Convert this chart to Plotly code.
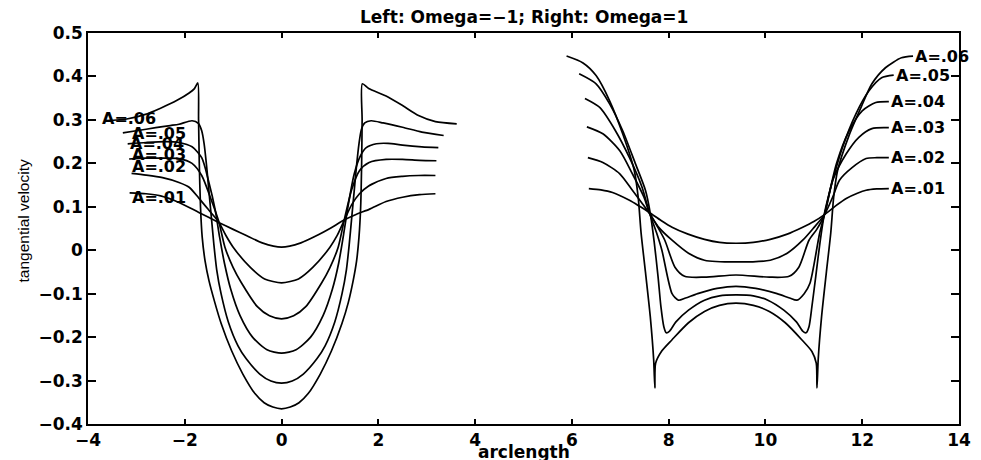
import plotly.graph_objects as go

# ---- Omega = -1 family (left) ----
L1_X = [-3.14, -2.8, -2.5, -2.12, -1.71, -1.3, -1.0, -0.75, -0.4, 0, 0.4, 0.75, 1.0, 1.3, 1.55, 1.81, 2.16, 2.5, 2.85, 3.18]
L1_Y = [0.132, 0.130, 0.125, 0.110, 0.087, 0.064, 0.048, 0.035, 0.017, 0.007, 0.017, 0.035, 0.050, 0.070, 0.083, 0.094, 0.112, 0.122, 0.128, 0.130]

L2_X = [-3.10, -2.80, -2.46, -2.12, -1.91, -1.71, -1.50, -1.30, -1.15, -1.00, -0.65, -0.35, 0, 0.35, 0.65, 1.00, 1.15, 1.30, 1.45, 1.61, 1.80, 2.16, 2.50, 2.83, 3.18]
L2_Y = [0.177, 0.173, 0.167, 0.156, 0.145, 0.120, 0.092, 0.065, 0.034, 0.007, -0.039, -0.066, -0.075, -0.066, -0.039, 0.007, 0.034, 0.070, 0.105, 0.130, 0.148, 0.165, 0.170, 0.172, 0.172]

L3_X = [-3.15, -2.8, -2.5, -2.12, -1.85, -1.65, -1.45, -1.30, -1.17, -1.00, -0.83, -0.50, -0.25, 0, 0.25, 0.50, 0.83, 1.00, 1.17, 1.30, 1.45, 1.61, 1.81, 2.16, 2.50, 2.85, 3.20]
L3_Y = [0.210, 0.212, 0.212, 0.211, 0.200, 0.172, 0.115, 0.067, 0.007, -0.040, -0.075, -0.130, -0.151, -0.158, -0.151, -0.130, -0.075, -0.040, 0.007, 0.072, 0.140, 0.183, 0.202, 0.209, 0.209, 0.207, 0.206]

L4_X = [-3.18, -2.8, -2.4, -2.12, -1.85, -1.65, -1.51, -1.37, -1.28, -1.18, -1.05, -0.86, -0.60, -0.30, 0, 0.30, 0.60, 0.86, 1.05, 1.18, 1.28, 1.38, 1.50, 1.62, 1.75, 1.96, 2.20, 2.50, 2.90, 3.24]
L4_Y = [0.245, 0.248, 0.250, 0.248, 0.238, 0.213, 0.160, 0.092, 0.030, -0.030, -0.090, -0.150, -0.200, -0.229, -0.237, -0.229, -0.200, -0.150, -0.090, -0.030, 0.035, 0.105, 0.175, 0.215, 0.236, 0.245, 0.246, 0.242, 0.238, 0.236]

L5_X = [-3.28, -3.0, -2.6, -2.3, -2.12, -1.85, -1.72, -1.65, -1.60, -1.55, -1.50, -1.45, -1.40, -1.34, -1.25, -1.10, -0.90, -0.73, -0.45, -0.22, 0,
        0.22, 0.45, 0.73, 0.90, 1.10, 1.25, 1.34, 1.40, 1.45, 1.50, 1.55, 1.60, 1.65, 1.72, 1.85, 2.10, 2.50, 2.90, 3.35]
L5_Y = [0.270, 0.275, 0.282, 0.287, 0.290, 0.298, 0.292, 0.275, 0.245, 0.195, 0.135, 0.075, 0.015, -0.045, -0.100, -0.165, -0.220, -0.250, -0.285, -0.301, -0.306,
        -0.301, -0.285, -0.250, -0.220, -0.165, -0.100, -0.045, 0.015, 0.075, 0.135, 0.195, 0.245, 0.278, 0.293, 0.298, 0.293, 0.283, 0.272, 0.264]

L6_X = [-3.62, -3.2, -2.83, -2.5, -2.16, -1.91, -1.80, -1.73, -1.715, -1.70, -1.675, -1.64, -1.58, -1.50, -1.38, -1.25, -1.03, -0.80, -0.55, -0.36, -0.18, 0,
        0.18, 0.36, 0.55, 0.80, 1.03, 1.25, 1.38, 1.48, 1.55, 1.60, 1.635, 1.655, 1.665, 1.67, 1.80, 2.16, 2.50, 2.83, 3.18, 3.62]
L6_Y = [0.298, 0.302, 0.312, 0.327, 0.345, 0.362, 0.372, 0.385, 0.300, 0.200, 0.100, 0.030, -0.025, -0.070, -0.120, -0.168, -0.232, -0.285, -0.330, -0.351, -0.361, -0.365,
        -0.361, -0.351, -0.330, -0.285, -0.232, -0.168, -0.120, -0.070, -0.025, 0.030, 0.100, 0.200, 0.300, 0.383, 0.372, 0.355, 0.333, 0.310, 0.296, 0.291]

# ---- Omega = 1 family (right) ----
R1_X = [6.35, 6.60, 6.84, 7.19, 7.40, 7.60, 7.85, 8.07, 8.40, 8.74, 9.05, 9.39, 9.75, 10.10, 10.45, 10.77, 11.00, 11.22, 11.45, 11.67, 11.90, 12.08, 12.30, 12.55]
R1_Y = [0.142, 0.139, 0.133, 0.115, 0.101, 0.087, 0.068, 0.053, 0.037, 0.025, 0.018, 0.016, 0.018, 0.025, 0.037, 0.053, 0.066, 0.082, 0.102, 0.119, 0.131, 0.138, 0.141, 0.142]

R2_X = [6.33, 6.64, 6.99, 7.25, 7.45, 7.60, 7.80, 8.07, 8.41, 8.74, 9.39, 10.10, 10.45, 10.77, 11.00, 11.22, 11.40, 11.53, 11.79, 12.08, 12.30, 12.55]
R2_Y = [0.213, 0.202, 0.176, 0.138, 0.108, 0.085, 0.052, 0.023, -0.007, -0.023, -0.027, -0.023, -0.007, 0.023, 0.052, 0.082, 0.125, 0.161, 0.190, 0.211, 0.213, 0.213]

R3_X = [6.31, 6.64, 6.99, 7.25, 7.49, 7.60, 7.75, 7.92, 8.13, 8.33, 8.74, 9.39, 10.08, 10.49, 10.69, 10.90, 11.06, 11.22, 11.39, 11.67, 11.93, 12.20, 12.55]
R3_Y = [0.284, 0.268, 0.229, 0.176, 0.122, 0.087, 0.058, 0.023, -0.039, -0.060, -0.062, -0.057, -0.062, -0.060, -0.039, 0.023, 0.048, 0.082, 0.161, 0.222, 0.260, 0.280, 0.282]

R4_X = [6.27, 6.58, 6.90, 7.19, 7.45, 7.60, 7.75, 7.86, 8.07, 8.20, 8.35, 8.60, 9.00, 9.39, 9.80, 10.24, 10.50, 10.65, 10.80, 10.92, 11.12, 11.22, 11.47, 11.73, 12.00, 12.28, 12.55]
R4_Y = [0.349, 0.328, 0.275, 0.213, 0.145, 0.087, 0.040, 0.000, -0.100, -0.115, -0.110, -0.100, -0.088, -0.083, -0.088, -0.100, -0.110, -0.115, -0.100, -0.076, 0.039, 0.082, 0.200, 0.275, 0.321, 0.340, 0.342]

R5_X = [6.15, 6.50, 6.78, 7.05, 7.31, 7.52, 7.62, 7.70, 7.78, 7.84, 7.90, 7.95, 8.02, 8.15, 8.41, 8.74, 9.05, 9.39, 9.75, 10.05, 10.38, 10.64, 10.77, 10.84, 10.90, 10.96, 11.04, 11.13, 11.22, 11.39, 11.59, 11.87, 12.14, 12.40, 12.65]
R5_Y = [0.406, 0.383, 0.337, 0.275, 0.200, 0.138, 0.085, 0.020, -0.060, -0.130, -0.176, -0.190, -0.186, -0.165, -0.138, -0.115, -0.105, -0.103, -0.105, -0.115, -0.138, -0.165, -0.186, -0.190, -0.176, -0.130, -0.060, 0.020, 0.085, 0.161, 0.236, 0.314, 0.367, 0.397, 0.403]

R6_X = [5.89, 6.23, 6.50, 6.78, 7.05, 7.29, 7.37, 7.43, 7.52, 7.62, 7.69, 7.715, 7.73, 7.85, 8.07, 8.41, 8.74, 9.05, 9.39, 9.75, 10.08, 10.41, 10.75, 10.96, 11.05, 11.065, 11.09, 11.16, 11.26, 11.35, 11.41, 11.49, 11.73, 11.98, 12.20, 12.48, 12.81, 13.05]
R6_Y = [0.447, 0.431, 0.402, 0.344, 0.268, 0.183, 0.122, 0.040, -0.050, -0.153, -0.252, -0.317, -0.260, -0.233, -0.206, -0.167, -0.141, -0.127, -0.122, -0.127, -0.141, -0.167, -0.206, -0.233, -0.260, -0.317, -0.252, -0.153, -0.050, 0.040, 0.122, 0.183, 0.265, 0.330, 0.383, 0.420, 0.443, 0.447]

CURVES = [
    (L1_X, L1_Y), (L2_X, L2_Y), (L3_X, L3_Y), (L4_X, L4_Y), (L5_X, L5_Y), (L6_X, L6_Y),
    (R1_X, R1_Y), (R2_X, R2_Y), (R3_X, R3_Y), (R4_X, R4_Y), (R5_X, R5_Y), (R6_X, R6_Y),
]

# curve labels: text, anchor x, anchor y (left-anchored)
LABEL_TEXT = ["A=.06", "A=.05", "A=.04", "A=.03", "A=.02", "A=.01",
              "A=.06", "A=.05", "A=.04", "A=.03", "A=.02", "A=.01"]
LABEL_X = [-3.75, -3.14, -3.18, -3.14, -3.14, -3.14,
           13.05, 12.65, 12.55, 12.55, 12.55, 12.55]
LABEL_Y = [0.303, 0.268, 0.245, 0.220, 0.193, 0.122,
           0.447, 0.403, 0.342, 0.282, 0.213, 0.142]

X_TICKS = [-4, -2, 0, 2, 4, 6, 8, 10, 12, 14]
X_TICK_TEXT = ["\u22124", "\u22122", "0", "2", "4", "6", "8", "10", "12", "14"]
Y_TICKS = [-0.4, -0.3, -0.2, -0.1, 0, 0.1, 0.2, 0.3, 0.4, 0.5]
Y_TICK_TEXT = ["\u22120.4", "\u22120.3", "\u22120.2", "\u22120.1", "0", "0.1", "0.2", "0.3", "0.4", "0.5"]

TITLE = "Left: Omega=\u22121; Right: Omega=1"
X_TITLE = "arclength"
Y_TITLE = "tangential velocity"

FONT = "DejaVu Sans"
FS = 17

fig = go.Figure()
for cx, cy in CURVES:
    fig.add_trace(go.Scatter(
        x=cx, y=cy, mode="lines",
        line=dict(color="black", width=1.7, shape="spline", smoothing=0.7),
        hoverinfo="skip", showlegend=False,
    ))

for t, lx, ly in zip(LABEL_TEXT, LABEL_X, LABEL_Y):
    fig.add_annotation(x=lx, y=ly, xref="x", yref="y", text=t, showarrow=False,
                       xanchor="left", yanchor="middle",
                       font=dict(family=FONT, size=16, color="black", weight="bold"))

fig.add_annotation(x=0.5, y=1, xref="paper", yref="paper", text=TITLE, showarrow=False,
                   xanchor="center", yanchor="bottom", yshift=4,
                   font=dict(family=FONT, size=FS, color="black", weight="bold"))
fig.add_annotation(x=0.5, y=0, xref="paper", yref="paper", text=X_TITLE, showarrow=False,
                   xanchor="center", yanchor="top", yshift=-16,
                   font=dict(family=FONT, size=FS, color="black", weight="bold"))
fig.add_annotation(x=0, y=0.5, xref="paper", yref="paper", text=Y_TITLE, showarrow=False,
                   xanchor="center", yanchor="middle", xshift=-65, yshift=7, textangle=-90,
                   font=dict(family="Liberation Sans", size=15.5, color="black"))

axis_common = dict(showline=True, linecolor="black", linewidth=1.6, mirror="ticks",
                   ticks="inside", tickcolor="black", tickwidth=1.5,
                   showgrid=False, zeroline=False,
                   tickfont=dict(family=FONT, size=FS, color="black", weight="bold"))

fig.update_xaxes(range=[-4, 14], tickvals=X_TICKS, ticktext=X_TICK_TEXT, ticklen=5, **axis_common)
fig.update_yaxes(range=[-0.4, 0.5], tickvals=Y_TICKS, ticktext=Y_TICK_TEXT, ticklen=8, **axis_common)

fig.update_layout(width=981, height=460, margin=dict(l=88, r=10, t=33, b=34),
                  paper_bgcolor="white", plot_bgcolor="white", showlegend=False)

fig.write_html("out.html")
